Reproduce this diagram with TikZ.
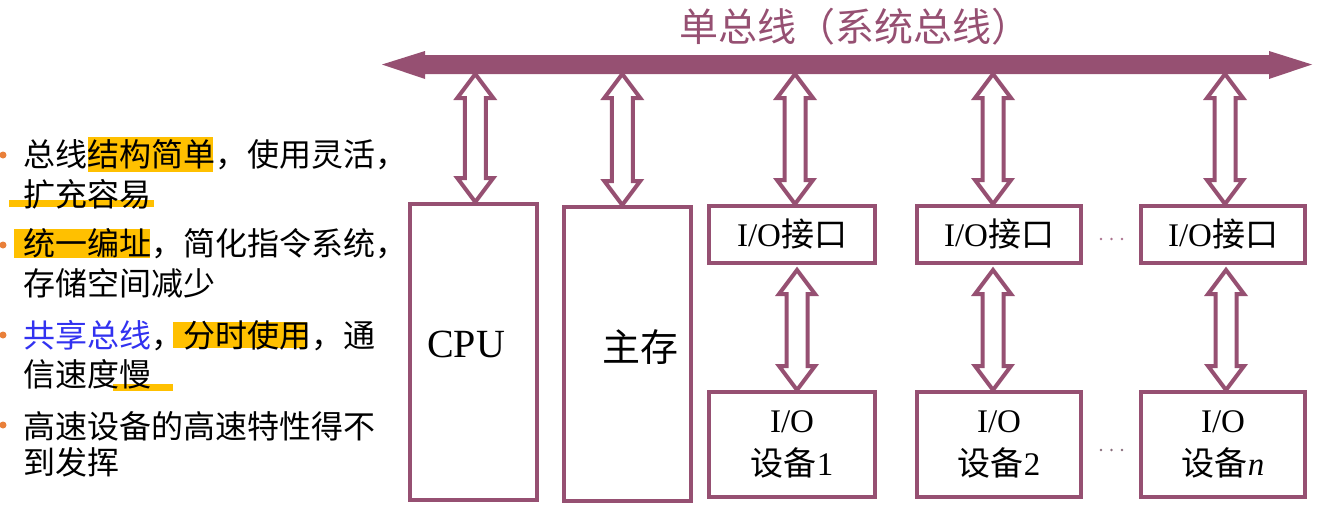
\documentclass[tikz,border=0pt]{standalone}
\usepackage{fontspec}
\setmainfont{Liberation Serif}
\newfontfamily\cjk{Noto Sans CJK SC}
\usetikzlibrary{calc}
\definecolor{bp}{RGB}{150,80,114}
\definecolor{hl}{RGB}{255,192,0}
\definecolor{bul}{RGB}{233,128,58}
\definecolor{tblue}{RGB}{50,50,240}
\newcommand{\dblarr}[2]{\draw[darr] let \p1=(#1), \p2=(#2) in
  (\x2,\y1) -- (\x2+18pt,\y1-24pt) -- (\x2+10.5pt,\y1-24pt) -- (\x2+10.5pt,\y2+24pt)
  -- (\x2+18pt,\y2+24pt) -- (\x2,\y2) -- (\x2-18pt,\y2+24pt) -- (\x2-10.5pt,\y2+24pt)
  -- (\x2-10.5pt,\y1-24pt) -- (\x2-18pt,\y1-24pt) -- cycle;}
\tikzset{
  box/.style={draw=bp, line width=4pt, inner sep=0pt},
  darr/.style={draw=bp, line width=4pt, line join=miter, miter limit=10},
  lt/.style={font=\cjk\fontsize{32}{39}\selectfont, anchor=west, inner sep=0pt},
  bt/.style={font=\fontsize{33}{43}\selectfont, align=center},
}
\begin{document}
\begin{tikzpicture}[x=1pt,y=-1pt]
\useasboundingbox (0,0) rectangle (1323,506);
% bus
\fill[bp] (382,64.5) -- (425,51) -- (425,55) -- (1269,55) -- (1269,51) -- (1312,64.5)
  -- (1269,79) -- (1269,74) -- (425,74) -- (425,79) -- cycle;
\coordinate (busb) at (0,74);
\node[font=\cjk\fontsize{39}{39}\selectfont, text=bp, inner sep=0pt] (title) at (855,27) {单总线（系统总线）};
% boxes
\node[box, minimum width=127.5pt, minimum height=296pt] (cpu) at (473.25,352) {};
\node[box, minimum width=126.5pt, minimum height=294pt] (mem) at (627.25,354) {};
\node[font=\fontsize{40}{40}\selectfont, inner sep=0pt] (cput) at (466,344.5) {CPU};
\node[font=\cjk\fontsize{38}{38}\selectfont, inner sep=0pt] (memt) at (640,347) {主存};
\node[box, bt, minimum width=166pt, minimum height=57pt] (if1) at (792,234.5) {I/O{\cjk 接口}};
\node[box, bt, minimum width=164pt, minimum height=57pt] (if2) at (999,234.5) {I/O{\cjk 接口}};
\node[box, bt, minimum width=164pt, minimum height=57pt] (ifn) at (1223,234.5) {I/O{\cjk 接口}};
\node[box, bt, minimum width=166pt, minimum height=105pt] (dev1) at (792,444.5) {I/O\\{\cjk 设备}1};
\node[box, bt, minimum width=164pt, minimum height=105pt] (dev2) at (999,444.5) {I/O\\{\cjk 设备}2};
\node[box, bt, minimum width=164pt, minimum height=105pt] (devn) at (1223,444.5) {I/O\\{\cjk 设备}\textit{n}};
% double arrows
\dblarr{busb}{[xshift=2pt]cpu.north}
\dblarr{busb}{[xshift=-5pt]mem.north}
\dblarr{busb}{[xshift=3pt]if1.north}
\dblarr{busb}{[xshift=-6pt]if2.north}
\dblarr{busb}{[xshift=2pt]ifn.north}
\dblarr{[yshift=-5pt]if1.south}{[xshift=5pt]dev1.north}
\dblarr{[yshift=-5pt]if2.south}{[xshift=-6pt]dev2.north}
\dblarr{[yshift=-5pt]ifn.south}{[xshift=3pt]devn.north}
% dots
\foreach \x in {1101,1111.5,1122} {
  \fill[bp!80] (\x,239) circle[radius=1.4pt];
  \fill[gray!60!bp] (\x,450) circle[radius=1.4pt];
}
% left text highlights
\fill[hl] (88,137) rectangle (213,172);
\fill[hl] (9,200) rectangle (154,207);
\fill[hl] (14,229) rectangle (150,258);
\fill[hl] (173,322) rectangle (307,348);
\fill[hl] (113,384) rectangle (173,391);
% bullets
\foreach \y in {155,245,335,425} \fill[bul] (3,\y) circle[radius=3.5pt];
% left text
\node[lt] (l1) at (23.5,155) {总线结构简单，使用灵活，};
\node[lt] (l2) at (23.5,194) {扩充容易};
\node[lt] (l3) at (23.5,244) {统一编址，简化指令系统，};
\node[lt] (l4) at (23.5,283) {存储空间减少};
\node[lt] (l5) at (23.5,336) {\textcolor{tblue}{共享总线}，分时使用，通};
\node[lt] (l6) at (23.5,374) {信速度慢};
\node[lt] (l7) at (23.5,426) {高速设备的高速特性得不};
\node[lt] (l8) at (23.5,462) {到发挥};
\end{tikzpicture}
\end{document}
